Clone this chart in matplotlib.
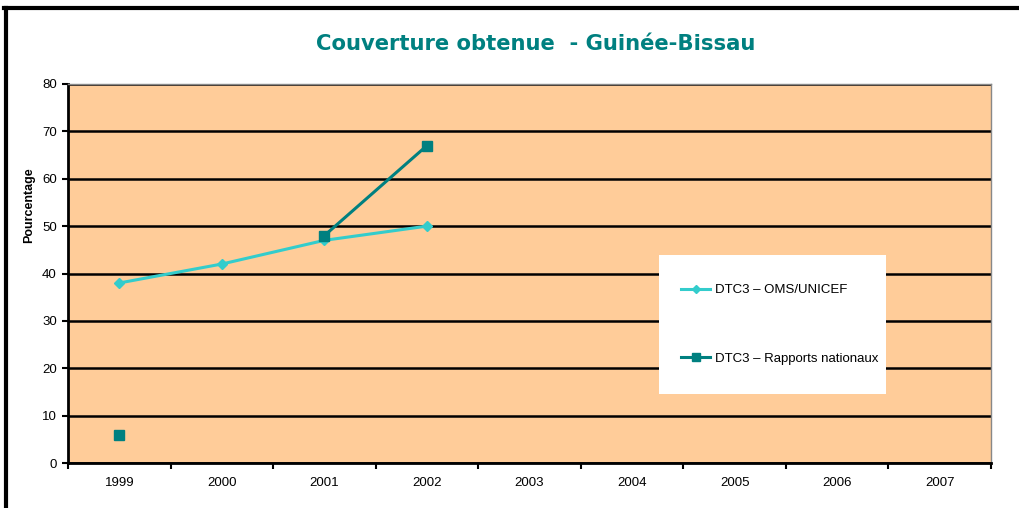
import matplotlib
matplotlib.use("Agg")
import matplotlib.pyplot as plt
import numpy as np
from matplotlib.lines import Line2D

years = ["1999", "2000", "2001", "2002", "2003", "2004", "2005", "2006", "2007"]
oms_unicef = [38, 42, 47, 50, None, None, None, None, None]
rapports = [6, None, 48, 67, None, None, None, None, None]
yticks = [0, 10, 20, 30, 40, 50, 60, 70, 80]

W, H = 1020, 508
fig = plt.figure(figsize=(W / 100, H / 100), dpi=100)
fig.patch.set_facecolor("white")

def fx(px):
    return px / W

def fy(py):
    return 1 - py / H

# figure border (left and top)
fig.add_artist(Line2D([fx(6), fx(6)], [fy(8), 0], color="black", lw=3, transform=fig.transFigure))
fig.add_artist(Line2D([fx(4), 1], [fy(8), fy(8)], color="black", lw=3, transform=fig.transFigure))

left, right, top, bottom = 68, 991, 84, 463
ax = fig.add_axes([fx(left), fy(bottom), fx(right - left), (bottom - top) / H])
ax.set_facecolor("#FFCC99")

x = np.arange(len(years))
def arr(v):
    return np.array([np.nan if a is None else a for a in v], dtype=float)

o = arr(oms_unicef)
r = arr(rapports)
ax.plot(x, o, color="#33CCCC", lw=2.2, marker="D", ms=5.5, mfc="#33CCCC", mec="#33CCCC",
        label="DTC3 \u2013 OMS/UNICEF", zorder=4)
ax.plot(x, r, color="#008080", lw=2.2, marker="s", ms=7.5, mfc="#008080", mec="#008080",
        label="DTC3 \u2013 Rapports nationaux", zorder=5)

ax.set_xlim(-0.5, len(years) - 0.5)
ax.set_ylim(0, 80)
ax.set_yticks(yticks)
ax.set_yticklabels([str(t) for t in yticks], fontsize=9.5, family="Liberation Sans")
ax.yaxis.grid(True, color="black", lw=1.8)
ax.set_axisbelow(True)

ax.set_xticks(x)
ax.set_xticklabels(years, fontsize=9.5, family="Liberation Sans")
ax.set_xticks(np.arange(-0.5, len(years), 1), minor=True)
ax.tick_params(axis="x", which="major", length=0, pad=10)
ax.tick_params(axis="x", which="minor", length=4, width=1.5, direction="out")
ax.tick_params(axis="y", length=4, width=1.5, direction="out", pad=4)

for s in ["left", "bottom"]:
    ax.spines[s].set_color("black")
    ax.spines[s].set_linewidth(2)
for s in ["right", "top"]:
    ax.spines[s].set_color("#888888")
    ax.spines[s].set_linewidth(1)

fig.text(fx(29), fy(205), "Pourcentage", rotation=90, ha="center", va="center",
         fontsize=9, fontweight="bold", family="Liberation Sans")

fig.text(fx(536), fy(44), "Couverture obtenue  - Guin\u00e9e-Bissau", ha="center", va="center",
         fontsize=15.2, fontweight="bold", color="#008080", family="DejaVu Sans")

# legend
lx0, lx1, ly0, ly1 = 659, 886, 255, 394
lax = fig.add_axes([fx(lx0), fy(ly1), fx(lx1 - lx0), (ly1 - ly0) / H])
lax.set_xlim(0, 1)
lax.set_ylim(0, 1)
lax.axis("off")
lax.add_patch(plt.Rectangle((0, 0), 1, 1, facecolor="white", edgecolor="none", transform=lax.transAxes))
leg = lax.legend(*ax.get_legend_handles_labels(), loc="center left",
                 bbox_to_anchor=((681 - lx0) / (lx1 - lx0), 0.5), frameon=False,
                 borderpad=0, borderaxespad=0,
                 prop={"family": "Liberation Sans", "size": 9.5}, labelspacing=4.3,
                 handlelength=2.2, handletextpad=0.4, markerscale=0.8)

fig.savefig("out.png", dpi=100, facecolor="white")
